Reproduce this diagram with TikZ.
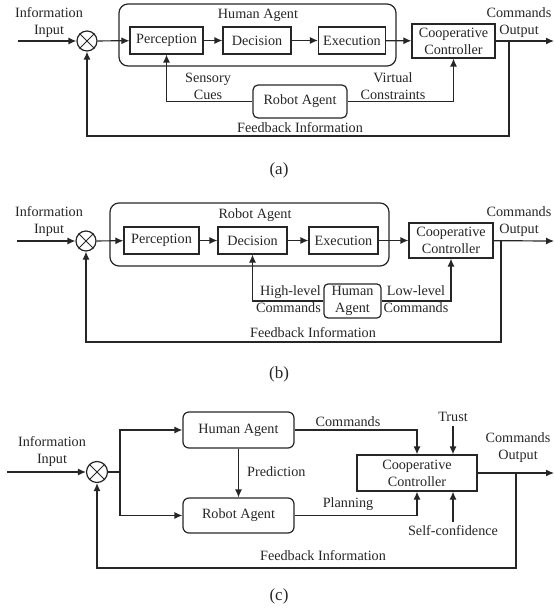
\documentclass[tikz,border=0pt]{standalone}
\usepackage{fontspec}
\setmainfont{Liberation Serif}
\usetikzlibrary{arrows.meta}
\definecolor{ink}{HTML}{262626}
\tikzset{
  every node/.style={font=\fontsize{14.2}{17}\selectfont, text=ink},
  wire/.style={draw=ink, line width=1.2pt},
  arr/.style={wire, -{Latex[length=8pt,width=7pt]}},
  block/.style={draw=ink, line width=1.2pt, inner sep=0pt, rectangle},
  rblock/.style={block, rounded corners=#1},
  frame/.style={draw=ink, line width=1.2pt, rounded corners=9pt, inner sep=0pt},
  lbl/.style={inner sep=0pt, align=center},
  caption/.style={inner sep=0pt, font=\fontsize{17}{20}\selectfont},
  sumnode/.style={circle, draw=ink, line width=1.2pt, inner sep=0pt, minimum size=#1},
}
\newcommand{\crosssum}[1]{\draw[wire, line width=1pt] (#1.45) -- (#1.225) (#1.135) -- (#1.315);}
\begin{document}
\begin{tikzpicture}[x=1pt, y=-1pt]
\useasboundingbox (0,0) rectangle (554,610);

% ---------------- (a) human-led perception loop ----------------
\node[lbl] (infoA) at (49,23) {Information\\Input};
\coordinate (inA) at (18,41);
\node[sumnode=20pt] (sA) at (87,41) {};
\crosssum{sA}
\node[frame, minimum width=277pt, minimum height=62pt] (haFrame) at (257.5,35) {};
\node[lbl] (haTitle) at (258,15) {Human Agent};
\node[block, minimum width=73pt, minimum height=27pt] (percA) at (166.5,40.5) {Perception};
\node[block, minimum width=68pt, minimum height=27pt] (decA) at (257,40.5) {Decision};
\node[block, minimum width=67pt, minimum height=27pt] (execA) at (352,40.5) {Execution};
\node[block, minimum width=83pt, minimum height=34pt, align=center] (ccA) at (453.5,41) {Cooperative\\Controller};
\node[rblock=5pt, minimum width=94pt, minimum height=33pt] (raA) at (300,101.5) {Robot Agent};
\node[lbl] (outLblA) at (519,22.5) {Commands\\Output};
\coordinate (outA) at (554,41);
\coordinate (brA) at (509,41);
\coordinate (fbA) at (509,136);
\node[lbl] (scA) at (208,86.5) {Sensory\\Cues};
\node[lbl] (vcA) at (393,86.5) {Virtual\\Constraints};
\node[lbl] (fbLblA) at (300,128) {Feedback Information};
\node[caption] (capA) at (279,170) {(a)};

\draw[arr] (inA) -- (sA);
\draw[arr] (sA) -- (percA);
\draw[arr] (percA) -- (decA);
\draw[arr] (decA) -- (execA);
\draw[arr] (execA) -- (ccA);
\draw[arr] (ccA) -- (outA);
\draw[arr] (raA.west) -| (percA.south);
\draw[arr] (raA.east) -| (ccA.south);
\draw[arr] (brA) -- (fbA) -| (sA.south);

% ---------------- (b) robot-led decision loop ----------------
\node[lbl] (infoB) at (49,222) {Information\\Input};
\coordinate (inB) at (17,241);
\node[sumnode=20pt] (sB) at (86,241) {};
\crosssum{sB}
\node[frame, minimum width=279pt, minimum height=63pt] (raFrame) at (249.5,234.5) {};
\node[lbl] (raTitle) at (255,215) {Robot Agent};
\node[block, minimum width=75pt, minimum height=27pt] (percB) at (161.5,240.5) {Perception};
\node[block, minimum width=69pt, minimum height=27pt] (decB) at (252.5,240.5) {Decision};
\node[block, minimum width=69pt, minimum height=27pt] (execB) at (343.5,240.5) {Execution};
\node[block, minimum width=84pt, minimum height=35pt, align=center] (ccB) at (451,240.5) {Cooperative\\Controller};
\node[rblock=4pt, minimum width=57pt, minimum height=34pt, align=center] (haB) at (352.5,301) {Human\\Agent};
\node[lbl] (outLblB) at (519,222) {Commands\\Output};
\coordinate (outB) at (554,241);
\coordinate (brB) at (501,241);
\coordinate (fbB) at (501,342);
\node[lbl, align=right, anchor=east] (hlB) at (321,299.5) {High-level\\Commands};
\node[lbl] (llB) at (416,299.5) {Low-level\\Commands};
\node[lbl] (fbLblB) at (313,333) {Feedback Information};
\node[caption] (capB) at (279,374) {(b)};

\draw[arr] (inB) -- (sB);
\draw[arr] (sB) -- (percB);
\draw[arr] (percB) -- (decB);
\draw[arr] (decB) -- (execB);
\draw[arr] (execB) -- (ccB);
\draw[arr] (ccB) -- (outB);
\draw[arr] (haB.west) -| (decB.south);
\draw[arr] (haB.east) -| (ccB.south);
\draw[arr] (brB) -- (fbB) -| (sB.south);

% ---------------- (c) parallel agents ----------------
\node[lbl] (infoC) at (52,452) {Information\\Input};
\coordinate (inC) at (7,472);
\node[sumnode=21pt] (sC) at (97,472) {};
\crosssum{sC}
\coordinate (spC) at (120,472);
\node[rblock=6pt, minimum width=111pt, minimum height=36pt] (haC) at (238.5,430) {Human Agent};
\node[rblock=6pt, minimum width=111pt, minimum height=35pt] (raC) at (238.5,515.5) {Robot Agent};
\node[block, minimum width=120pt, minimum height=36pt, align=center] (ccC) at (417,473) {Cooperative\\Controller};
\node[lbl, anchor=west] (predC) at (247,472) {Prediction};
\node[lbl] (cmdC) at (348,422) {Commands};
\node[lbl] (plC) at (348,504) {Planning};
\node[lbl] (trC) at (453,417) {Trust};
\coordinate (trS) at (453,426);
\node[lbl] (scC) at (453,531) {Self-confidence};
\coordinate (scS) at (453,522);
\node[lbl] (outLblC) at (518,447.5) {Commands\\Output};
\coordinate (outC) at (554,473);
\coordinate (brC) at (516,473);
\coordinate (fbC) at (516,568);
\node[lbl] (fbLblC) at (323,556) {Feedback Information};
\node[caption] (capC) at (279,596) {(c)};

\draw[arr] (inC) -- (sC);
\draw[wire] (sC) -- (spC);
\draw[arr] (spC) |- (haC.west);
\draw[arr] (spC) |- (raC.west);
\draw[arr] (haC) -- (raC);
\draw[arr] (haC.east) -| (ccC.north);
\draw[arr] (raC.east) -| (ccC.south);
\draw[arr] (trS) -- (trS |- ccC.north);
\draw[arr] (scS) -- (scS |- ccC.south);
\draw[arr] (ccC) -- (outC);
\draw[arr] (brC) -- (fbC) -| (sC.south);
\end{tikzpicture}
\end{document}
